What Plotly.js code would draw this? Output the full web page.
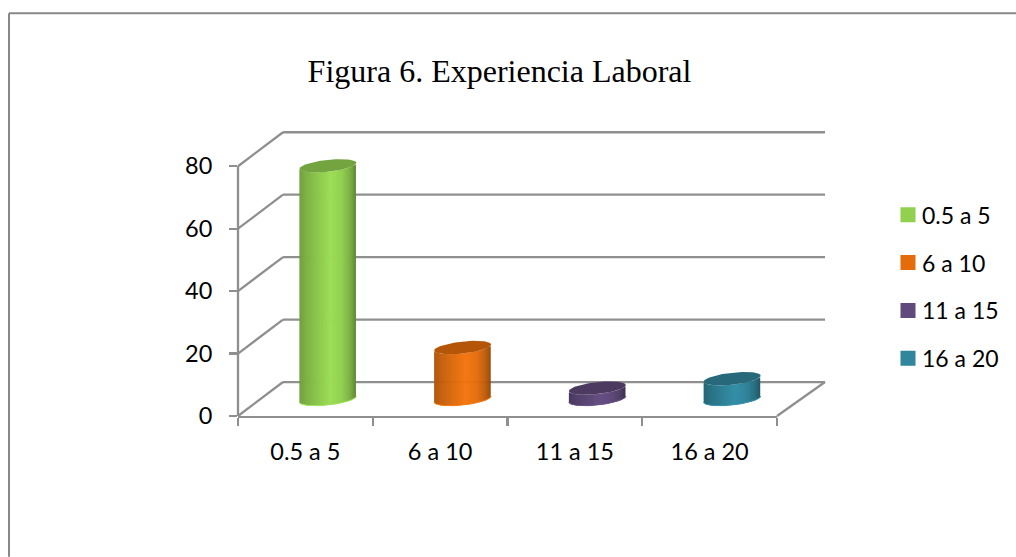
<!DOCTYPE html>
<html>
<head>
<meta charset="utf-8">
<script src="https://cdn.plot.ly/plotly-3.0.1.min.js"></script>
<style>
html,body{margin:0;padding:0;background:#fff}
/* pull legend swatches closer to their labels */
.legend .legendsymbols{transform:translateX(6px)}
</style>
</head>
<body>
<div id="chart" style="width:1016px;height:557px"></div>
<script>
// Years of work experience, share of respondents per band
const categories = ['0.5 a 5', '6 a 10', '11 a 15', '16 a 20'];
const values = [74.7, 16.5, 3.5, 6.5];
const colors = ['#92D050', '#E46C0A', '#604A7B', '#31859C'];
const yTicks = [0, 20, 40, 60, 80];
const xEdges = [0, 1, 2, 3, 4];
const xCenters = [0.5, 1.5, 2.5, 3.5];

// Plot box in pixels; the y range runs past 80 so the tallest cap is not clipped
const W = 1016, H = 557;
const yMax = 90;
const pxPerY = 250 / 80;
const box = {l: 238, r: 777, t: 416 - yMax * pxPerY, b: 416};
const pxPerX = (box.r - box.l) / 4;

// Oblique depth of the floor, in axis units
const depthX = 45 / pxPerX;
const depthXRight = 48 / pxPerX;
const depthY = 34 / pxPerY;

// Cylinder cross-section: half width, and the sheared ellipse terms (px)
const radiusPx = 28.5, tiltPx = 3, flatPx = 6;
const axisGrey = '#8F8F8F';
const lineW = 2.3;
const font = 'Lato, Carlito, sans-serif';

function shade(hex, m) {
  const c = [1, 3, 5].map(i => Math.min(255, Math.round(parseInt(hex.substr(i, 2), 16) * m)));
  return `rgb(${c[0]},${c[1]},${c[2]})`;
}

// Brightness across the cylinder face, t runs from -1 (left) to 1 (right)
const shadeStops = [[-1, .76], [-.7, .87], [-.3, .97], [.1, 1.07], [.5, 1.0], [.8, .84], [1, .64]];
function faceLight(t) {
  for (let i = 1; i < shadeStops.length; i++) {
    const [a, ma] = shadeStops[i - 1], [b, mb] = shadeStops[i];
    if (t <= b) return ma + (mb - ma) * (t - a) / (b - a);
  }
  return shadeStops[shadeStops.length - 1][1];
}

const traces = [];
categories.forEach((name, i) => {
  const cx = xCenters[i] + depthX / 2;
  const cy = depthY / 2;
  const value = values[i];

  // Body: thin vertical slices following the lower rim of the ellipse
  const sx = [], sBase = [], sLen = [], sCol = [];
  for (let p = -radiusPx + 0.8; p <= radiusPx - 0.8; p += 1) {
    const t = p / radiusPx;
    sx.push(cx + p / pxPerX);
    sBase.push(cy + (tiltPx * t - flatPx * Math.sqrt(Math.max(0, 1 - t * t))) / pxPerY);
    sLen.push(value);
    sCol.push(shade(colors[i], faceLight(t)));
  }
  traces.push({
    type: 'bar', x: sx, y: sLen, base: sBase, width: 1.6 / pxPerX,
    marker: {color: sCol, line: {width: 0}},
    cliponaxis: false, showlegend: false, hoverinfo: 'skip'
  });

  // Top cap and a lighter rim along the bottom edge
  const ex = [], ey = [], rx = [], ry = [];
  for (let k = 0; k <= 72; k++) {
    const a = k / 72 * 2 * Math.PI;
    ex.push(cx + radiusPx * Math.cos(a) / pxPerX);
    ey.push(cy + value + (tiltPx * Math.cos(a) + flatPx * Math.sin(a)) / pxPerY);
    if (k >= 36) {
      rx.push(cx + radiusPx * Math.cos(a) / pxPerX);
      ry.push(cy + (tiltPx * Math.cos(a) + flatPx * Math.sin(a)) / pxPerY);
    }
  }
  traces.push({
    type: 'scatter', mode: 'lines', x: rx, y: ry,
    line: {color: shade(colors[i], 1.1), width: 1},
    cliponaxis: false, showlegend: false, hoverinfo: 'skip'
  });
  traces.push({
    type: 'scatter', mode: 'lines', x: ex, y: ey, fill: 'toself',
    fillcolor: shade(colors[i], .79), line: {width: 0, color: shade(colors[i], .79)},
    cliponaxis: false, showlegend: false, hoverinfo: 'skip'
  });
});

// Legend entries
categories.forEach((name, i) => {
  traces.push({
    type: 'scatter', mode: 'markers', x: [null], y: [null], name: name,
    legendgroup: name, marker: {symbol: 'square', size: 15, color: colors[i]}
  });
});

// Back wall, side wall and floor edges, in fractions of the plot box
const toPaperX = v => v / 4;
const toPaperY = v => v / yMax;
function seg(x0, y0, x1, y1) {
  return {
    type: 'line', xref: 'paper', yref: 'paper', layer: 'below',
    x0: toPaperX(x0), y0: toPaperY(y0), x1: toPaperX(x1), y1: toPaperY(y1),
    line: {color: axisGrey, width: lineW}
  };
}
const shapes = [];
yTicks.forEach(v => {
  shapes.push(seg(0, v, depthX, v + depthY));
  shapes.push(seg(depthX, v + depthY, 4 + depthXRight, v + depthY));
});
shapes.push(seg(4, 0, 4 + depthXRight, depthY));
shapes.push(seg(0, 0, 0, 80));

// Frame along the top and left of the page
const frameX = (9 - box.l) / (box.r - box.l);
const frameTop = (box.b - 13) / (box.b - box.t);
const frameBottom = (box.b - H) / (box.b - box.t);
const frameRight = (W - box.l) / (box.r - box.l);
[[frameX, frameBottom, frameX, frameTop], [frameX, frameTop, frameRight, frameTop]].forEach(f => {
  shapes.push({
    type: 'line', xref: 'paper', yref: 'paper', layer: 'below',
    x0: f[0], y0: f[1], x1: f[2], y1: f[3], line: {color: '#888888', width: 2}
  });
});

const layout = {
  width: W, height: H,
  paper_bgcolor: '#fff', plot_bgcolor: 'rgba(0,0,0,0)',
  margin: {l: box.l, r: W - box.r, t: box.t, b: H - box.b, pad: 0},
  barmode: 'overlay',
  title: {
    text: 'Figura 6. Experiencia Laboral',
    font: {family: '"Liberation Serif", serif', size: 32, color: '#000'},
    xref: 'container', yref: 'container', x: 499.5 / W, xanchor: 'center',
    y: 1 - 71 / H, yanchor: 'middle'
  },
  xaxis: {
    range: [0, 4], tickmode: 'array', tickvals: xCenters, ticktext: categories,
    ticks: '', showgrid: false, zeroline: false,
    showline: true, linecolor: axisGrey, linewidth: lineW,
    tickfont: {family: font, size: 23.5, color: '#000'}, ticklabelstandoff: 13,
    minor: {tickmode: 'array', tickvals: xEdges, ticks: 'outside', ticklen: 8, tickwidth: lineW, tickcolor: axisGrey, showgrid: false}
  },
  yaxis: {
    range: [0, yMax], tickmode: 'array', tickvals: yTicks,
    ticks: 'outside', ticklen: 8, tickwidth: lineW, tickcolor: axisGrey,
    showgrid: false, zeroline: false, showline: false,
    tickfont: {family: font, size: 23.5, color: '#000'}, ticklabelstandoff: 12
  },
  legend: {
    x: (882 - box.l) / (box.r - box.l), xanchor: 'left',
    y: (box.b - 193) / (box.b - box.t), yanchor: 'top',
    font: {family: font, size: 23, color: '#000'},
    tracegroupgap: 15, bgcolor: 'rgba(0,0,0,0)', borderwidth: 0
  },
  shapes: shapes,
  showlegend: true
};

Plotly.newPlot('chart', traces, layout, {displayModeBar: false, staticPlot: true});
</script>
</body>
</html>
